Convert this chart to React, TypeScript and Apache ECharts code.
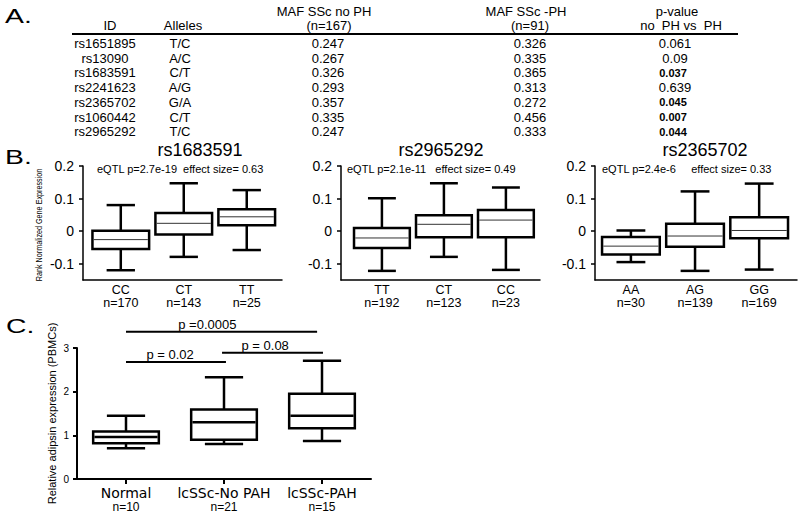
import React, { useEffect, useRef } from 'react';
import * as echarts from 'echarts';

const FONT = '"Liberation Sans", Arial, Helvetica, sans-serif';
const WIDE = '"DejaVu Sans", "Liberation Sans", Arial, sans-serif';

// ---- Panel A table ----
const tableIds = ['rs1651895', 'rs13090', 'rs1683591', 'rs2241623', 'rs2365702', 'rs1060442', 'rs2965292'];
const tableAlleles = ['T/C', 'A/C', 'C/T', 'A/G', 'G/A', 'C/T', 'T/C'];
const mafNoPH = ['0.247', '0.267', '0.326', '0.293', '0.357', '0.335', '0.247'];
const mafPH = ['0.326', '0.335', '0.365', '0.313', '0.272', '0.456', '0.333'];
const pValues = ['0.061', '0.09', '0.037', '0.639', '0.045', '0.007', '0.044'];

// ---- Panel B eQTL boxplots: [min, Q1, median, Q3, max] ----
const b1Title = 'rs1683591';
const b1Note = 'eQTL p=2.7e-19  effect size= 0.63';
const b1Categories = ['CC', 'CT', 'TT'];
const b1N = [170, 143, 25];
const b1Stats = [
  [-0.12, -0.055, -0.026, 0.001, 0.08],
  [-0.079, -0.01, 0.024, 0.056, 0.147],
  [-0.058, 0.018, 0.044, 0.067, 0.126],
];

const b2Title = 'rs2965292';
const b2Note = 'eQTL p=2.1e-11   effect size= 0.49';
const b2Categories = ['TT', 'CT', 'CC'];
const b2N = [192, 123, 23];
const b2Stats = [
  [-0.122, -0.052, -0.021, 0.01, 0.101],
  [-0.079, -0.019, 0.021, 0.049, 0.147],
  [-0.119, -0.019, 0.034, 0.065, 0.134],
];

const b3Title = 'rs2365702';
const b3Note = 'eQTL p=2.4e-6     effect size= 0.33';
const b3Categories = ['AA', 'AG', 'GG'];
const b3N = [30, 139, 169];
const b3Stats = [
  [-0.095, -0.072, -0.046, -0.018, 0.002],
  [-0.122, -0.048, -0.015, 0.023, 0.122],
  [-0.118, -0.022, 0.002, 0.043, 0.146],
];

const bTicks = [-0.1, 0, 0.1, 0.2];

// ---- Panel C adipsin boxplot ----
const cCategories = ['Normal', 'lcSSc-No PAH', 'lcSSc-PAH'];
const cN = [10, 21, 15];
const cStats = [
  [0.705, 0.82, 0.96, 1.09, 1.45],
  [0.8, 0.9, 1.3, 1.59, 2.33],
  [0.87, 1.165, 1.45, 1.95, 2.71],
];
const bracketFrom = [0, 0, 0.98];
const bracketTo = [1.95, 1.02, 2.01];
const bracketY = [3.37, 2.68, 2.89];
const bracketTextAt = [0.83, 0.45, 1.42];
const bracketText = ['p =0.0005', 'p = 0.02', 'p = 0.08'];

function boxRenderer(boxRatio: number, capRatio: number, lw: number, medLw: number, medColor: string) {
  return (params: any, api: any) => {
    const x = api.value(0);
    const lo = api.coord([x, api.value(1)]);
    const q1 = api.coord([x, api.value(2)]);
    const med = api.coord([x, api.value(3)]);
    const q3 = api.coord([x, api.value(4)]);
    const hi = api.coord([x, api.value(5)]);
    const unit = api.size([1, 0])[0];
    const bw = unit * boxRatio;
    const cw = unit * capRatio;
    const cx = lo[0];
    const st = { stroke: '#000', lineWidth: lw, fill: null };
    return {
      type: 'group',
      children: [
        { type: 'line', shape: { x1: cx, y1: hi[1], x2: cx, y2: q3[1] }, style: st },
        { type: 'line', shape: { x1: cx, y1: q1[1], x2: cx, y2: lo[1] }, style: st },
        { type: 'line', shape: { x1: cx - cw / 2, y1: hi[1], x2: cx + cw / 2, y2: hi[1] }, style: st },
        { type: 'line', shape: { x1: cx - cw / 2, y1: lo[1], x2: cx + cw / 2, y2: lo[1] }, style: st },
        {
          type: 'rect',
          shape: { x: cx - bw / 2, y: q3[1], width: bw, height: q1[1] - q3[1] },
          style: { stroke: '#000', lineWidth: lw, fill: '#fff' },
        },
        {
          type: 'line',
          shape: { x1: cx - bw / 2 + lw / 2, y1: med[1], x2: cx + bw / 2 - lw / 2, y2: med[1] },
          style: { stroke: medColor, lineWidth: medLw },
        },
      ],
    };
  };
}

function bracketRenderer(params: any, api: any) {
  const i = params.dataIndex;
  const a = api.coord([api.value(0), api.value(2)]);
  const b = api.coord([api.value(1), api.value(2)]);
  const t = api.coord([api.value(3), api.value(2)]);
  return {
    type: 'group',
    children: [
      { type: 'line', shape: { x1: a[0], y1: a[1], x2: b[0], y2: b[1] }, style: { stroke: '#000', lineWidth: 2 } },
      {
        type: 'text',
        x: t[0],
        y: t[1] - 1,
        style: {
          text: bracketText[i],
          fill: '#000',
          fontSize: 13,
          fontFamily: FONT,
          align: 'center',
          verticalAlign: 'bottom',
        },
      },
    ],
  };
}

export default function App() {
  const ref = useRef<HTMLDivElement>(null);
  useEffect(() => {
    if (!ref.current) return;
    const chart = echarts.init(ref.current, undefined, { renderer: 'svg' });

    const bGrids = [
      { left: 83, top: 166, width: 199, height: 114 },
      { left: 341, top: 166, width: 199, height: 114 },
      { left: 595, top: 166, width: 202, height: 114 },
    ];
    const bRanges = [
      [-0.6, 2.56],
      [-0.66, 2.55],
      [-0.56, 2.59],
    ];
    const bCats = [b1Categories, b2Categories, b3Categories];
    const bNs = [b1N, b2N, b3N];
    const bStats = [b1Stats, b2Stats, b3Stats];

    const xAxes: any[] = bRanges.map((r, k) => ({
      type: 'value',
      gridIndex: k,
      min: r[0],
      max: r[1],
      splitLine: { show: false },
      axisLine: { onZero: false, lineStyle: { color: '#000', width: 1.5 } },
      axisTick: { show: false },
      axisLabel: {
        customValues: [0, 1, 2],
        margin: 3,
        color: '#000',
        fontFamily: FONT,
        formatter: (v: number) => {
          const i = Math.round(v);
          return `{a|${bCats[k][i]}}\n{a|n=${bNs[k][i]}}`;
        },
        rich: { a: { fontSize: 12.5, lineHeight: 13, fontFamily: FONT, color: '#000' } },
      },
    }));
    xAxes.push({
      type: 'value',
      gridIndex: 3,
      min: -0.5,
      max: 2.5,
      splitLine: { show: false },
      axisLine: { onZero: false, lineStyle: { color: '#000', width: 2 } },
      axisTick: { customValues: [0, 1, 2], length: 5, lineStyle: { color: '#000', width: 2 } },
      axisLabel: {
        customValues: [0, 1, 2],
        margin: 6,
        color: '#000',
        formatter: (v: number) => {
          const i = Math.round(v);
          return `{a|${cCategories[i]}}\n{b|n=${cN[i]}}`;
        },
        rich: {
          a: { fontSize: 14, lineHeight: 15, fontFamily: WIDE, color: '#000' },
          b: { fontSize: 12, lineHeight: 14, fontFamily: FONT, color: '#000' },
        },
      },
    });

    const yAxes: any[] = [0, 1, 2].map((k) => ({
      type: 'value',
      gridIndex: k,
      min: -0.15,
      max: 0.2,
      splitLine: { show: false },
      axisLine: { show: true, onZero: false, lineStyle: { color: '#000', width: 1.5 } },
      axisTick: { show: true, customValues: bTicks, length: 4, lineStyle: { color: '#000', width: 1.5 } },
      axisLabel: {
        customValues: bTicks,
        margin: 9,
        fontSize: 14,
        fontFamily: FONT,
        color: '#000',
        formatter: (v: number) => String(Math.round(v * 10) / 10),
      },
    }));
    yAxes.push({
      type: 'value',
      gridIndex: 3,
      min: 0,
      max: 3,
      interval: 1,
      splitLine: { show: false },
      axisLine: { show: true, onZero: false, lineStyle: { color: '#000', width: 2 } },
      axisTick: { show: true, length: 4, lineStyle: { color: '#000', width: 2 } },
      axisLabel: { margin: 8, fontSize: 10, fontFamily: FONT, color: '#000' },
      name: 'Relative adipsin expression (PBMCs)',
      nameLocation: 'middle',
      nameGap: 20,
      nameTextStyle: { fontSize: 11, fontFamily: FONT, color: '#000' },
    });

    const series: any[] = bStats.map((stats, k) => ({
      type: 'custom',
      xAxisIndex: k,
      yAxisIndex: k,
      silent: true,
      clip: false,
      encode: { x: 0, y: [1, 2, 3, 4, 5] },
      data: stats.map((s, i) => [i, ...s]),
      renderItem: boxRenderer(0.9, 0.45, 2.5, 1, '#333'),
    }));
    series.push({
      type: 'custom',
      xAxisIndex: 3,
      yAxisIndex: 3,
      silent: true,
      clip: false,
      encode: { x: 0, y: [1, 2, 3, 4, 5] },
      data: cStats.map((s, i) => [i, ...s]),
      renderItem: boxRenderer(0.67, 0.39, 2.5, 2.5, '#000'),
    });
    series.push({
      type: 'custom',
      xAxisIndex: 3,
      yAxisIndex: 3,
      silent: true,
      clip: false,
      encode: { x: [0, 1, 3], y: 2 },
      data: bracketFrom.map((f, i) => [f, bracketTo[i], bracketY[i], bracketTextAt[i]]),
      renderItem: bracketRenderer,
    });

    // Table and headings as graphic texts
    const txt = (text: string, x: number, y: number, fontSize: number, extra: any = {}) => ({
      type: 'text',
      x,
      y,
      style: {
        text,
        fontSize,
        fontFamily: FONT,
        fill: '#000',
        align: 'center',
        verticalAlign: 'middle',
        ...extra,
      },
    });
    const rowY = (i: number) => 43.5 + i * 14.7;
    const graphics: any[] = [
      { ...txt('A.', 5, 15, 21, { align: 'left' }), scaleX: 1.35 },
      { ...txt('B.', 5, 156, 21, { align: 'left' }), scaleX: 1.35 },
      { ...txt('C.', 6, 325, 21, { align: 'left' }), scaleX: 1.35 },
      txt('ID', 110, 25.5, 13),
      txt('Alleles', 183, 25.5, 13),
      txt('MAF SSc no PH', 324, 11.5, 13),
      txt('(n=167)', 329, 25.5, 13),
      txt('MAF SSc -PH', 526, 11.5, 13),
      txt('(n=91)', 530, 25.5, 13),
      txt('p-value', 677, 11.5, 13),
      txt('no  PH vs  PH', 681, 25.5, 13),
      { type: 'line', shape: { x1: 72, y1: 34, x2: 738, y2: 34 }, style: { stroke: '#000', lineWidth: 2 } },
      txt(b1Title, 200, 150, 18),
      txt(b2Title, 441, 150, 18),
      txt(b3Title, 705, 150, 18),
      txt(b1Note, 97, 169, 11, { align: 'left' }),
      txt(b2Note, 347, 169, 11, { align: 'left' }),
      txt(b3Note, 602, 169, 11, { align: 'left' }),
      {
        ...txt('Rank Normalized Gene Expression', 39, 225, 9.5),
        rotation: Math.PI / 2,
        scaleX: 0.76,
      },
    ];
    tableIds.forEach((id, i) => {
      const y = rowY(i);
      const bold = parseFloat(pValues[i]) < 0.05;
      graphics.push(txt(id, 105, y, 13));
      graphics.push(txt(tableAlleles[i], 180, y, 13));
      graphics.push(txt(mafNoPH[i], 328, y, 13));
      graphics.push(txt(mafPH[i], 530, y, 13));
      graphics.push(
        txt(pValues[i], bold ? 673 : 675, y, bold ? 11 : 13, bold ? { fontWeight: 'bold' } : {})
      );
    });

    chart.setOption({
      animation: false,
      backgroundColor: '#fff',
      grid: [
        ...bGrids,
        { left: 77, top: 348, width: 294, height: 131 },
      ],
      xAxis: xAxes,
      yAxis: yAxes,
      series,
      graphic: graphics,
    });
    return () => chart.dispose();
  }, []);
  return (
    <div
      ref={ref}
      style={{ position: 'fixed', left: 0, top: 0, width: 800, height: 514, background: '#fff' }}
    />
  );
}
